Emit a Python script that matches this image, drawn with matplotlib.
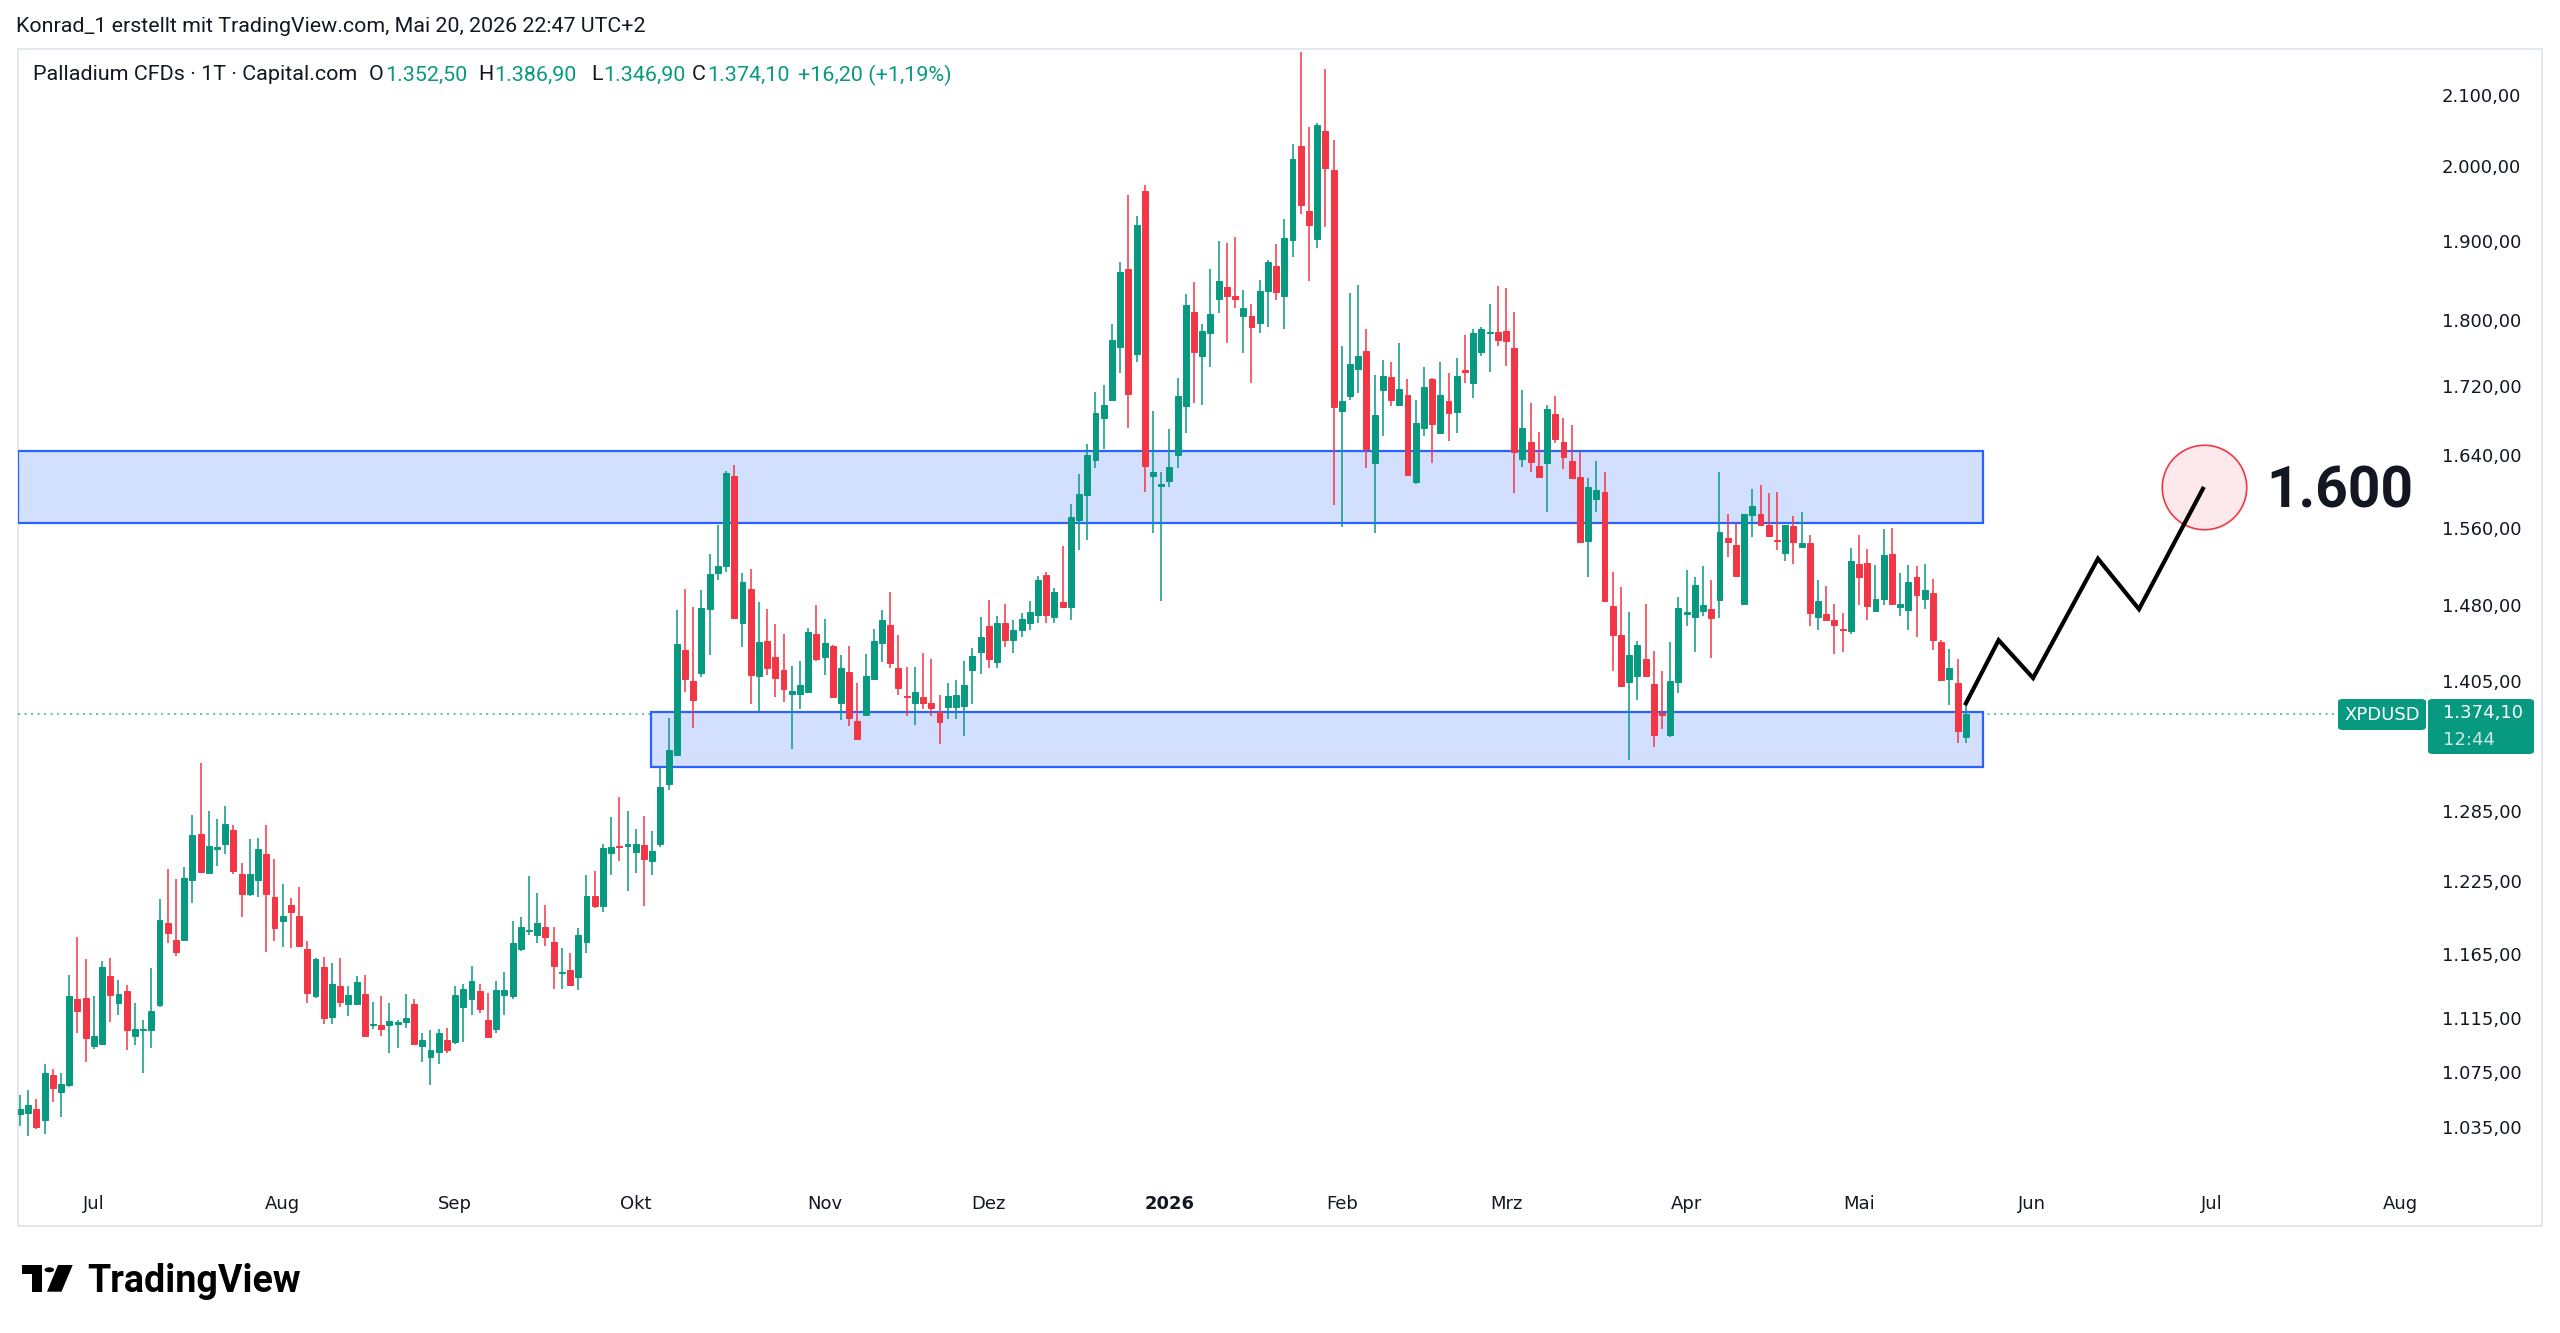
import numpy as np
import pandas as pd
import matplotlib
matplotlib.use("Agg")
import matplotlib.pyplot as plt
from matplotlib.patches import Rectangle, FancyBboxPatch, Polygon, Circle
from matplotlib.ticker import NullLocator, NullFormatter

W, H, DPI = 2560, 1333, 100

# ---------------- data ----------------
first_session = "2025-06-18"
closed_days = ["2025-12-25", "2026-01-01", "2026-04-03"]

opens = [1044, 1045, 1048, 1040, 1073, 1060, 1065, 1130, 1131, 1094,
         1096, 1148, 1127, 1136, 1102, 1106, 1106, 1125, 1190, 1177,
         1177, 1226, 1265, 1232, 1252, 1257, 1269, 1231, 1214, 1226,
         1248, 1212, 1192, 1205, 1196, 1169, 1132, 1155, 1116, 1140,
         1126, 1126, 1134, 1110, 1110, 1110, 1111, 1112, 1126, 1094,
         1086, 1090, 1099, 1097, 1124, 1130, 1136, 1114, 1107, 1133,
         1132, 1169, 1184, 1181, 1187, 1175, 1150, 1153, 1147, 1175,
         1213, 1204, 1249, 1255, 1255, 1250, 1256, 1242, 1257, 1309,
         1336, 1435, 1405, 1413, 1476, 1513, 1520, 1617, 1462, 1497,
         1410, 1444, 1428, 1416, 1393, 1393, 1395, 1451, 1428, 1439,
         1384, 1414, 1367, 1373, 1407, 1442, 1460, 1418, 1391, 1384,
         1390, 1384, 1376, 1380, 1380, 1381, 1416, 1433, 1459, 1424,
         1462, 1445, 1455, 1462, 1470, 1511, 1468, 1483, 1478, 1569,
         1596, 1635, 1683, 1703, 1767, 1864, 1758, 1966, 1617, 1606,
         1611, 1641, 1697, 1810, 1756, 1784, 1826, 1841, 1829, 1804,
         1805, 1796, 1836, 1867, 1830, 1901, 2027, 1939, 1902, 2049,
         1995, 1691, 1708, 1740, 1762, 1632, 1715, 1731, 1698, 1709,
         1610, 1671, 1728, 1666, 1702, 1690, 1739, 1724, 1761, 1783,
         1785, 1786, 1765, 1636, 1655, 1628, 1632, 1687, 1655, 1634,
         1616, 1547, 1592, 1599, 1479, 1450, 1404, 1410, 1426, 1402,
         1375, 1354, 1404, 1471, 1468, 1474, 1476, 1485, 1550, 1542,
         1481, 1574, 1575, 1564, 1548, 1534, 1563, 1540, 1545, 1468,
         1471, 1465, 1456, 1454, 1522, 1523, 1474, 1486, 1533, 1478,
         1475, 1509, 1486, 1492, 1443, 1407, 1403, 1352.5]
highs = [1058, 1062, 1055, 1081, 1077, 1074, 1149, 1179, 1161, 1132,
         1160, 1162, 1145, 1141, 1127, 1114, 1154, 1210, 1235, 1227,
         1237, 1282, 1328, 1285, 1278, 1290, 1273, 1240, 1261, 1262,
         1273, 1244, 1223, 1211, 1220, 1176, 1162, 1163, 1158, 1162,
         1140, 1148, 1149, 1128, 1132, 1127, 1114, 1134, 1130, 1104,
         1106, 1107, 1108, 1140, 1142, 1156, 1142, 1135, 1144, 1151,
         1192, 1195, 1229, 1215, 1205, 1187, 1170, 1166, 1186, 1230,
         1234, 1257, 1280, 1298, 1285, 1270, 1281, 1268, 1324, 1370,
         1475, 1497, 1478, 1496, 1533, 1564, 1623, 1629, 1513, 1517,
         1483, 1476, 1461, 1451, 1420, 1425, 1457, 1480, 1466, 1440,
         1430, 1439, 1403, 1431, 1456, 1475, 1494, 1450, 1419, 1419,
         1432, 1426, 1392, 1403, 1406, 1425, 1437, 1468, 1485, 1469,
         1481, 1465, 1472, 1484, 1510, 1514, 1498, 1541, 1586, 1619,
         1653, 1713, 1721, 1794, 1872, 1960, 1932, 1974, 1691, 1621,
         1670, 1729, 1832, 1847, 1795, 1864, 1900, 1897, 1905, 1837,
         1819, 1849, 1875, 1896, 1928, 2030, 2163, 2054, 2059, 2137,
         2036, 1768, 1833, 1843, 1788, 1733, 1751, 1749, 1772, 1728,
         1703, 1742, 1730, 1748, 1735, 1753, 1781, 1789, 1791, 1819,
         1842, 1840, 1809, 1715, 1700, 1667, 1698, 1708, 1683, 1675,
         1644, 1615, 1634, 1621, 1514, 1499, 1473, 1444, 1481, 1434,
         1415, 1443, 1488, 1516, 1509, 1520, 1506, 1621, 1575, 1566,
         1576, 1603, 1607, 1598, 1599, 1564, 1573, 1578, 1553, 1506,
         1500, 1481, 1472, 1539, 1553, 1538, 1521, 1559, 1561, 1513,
         1521, 1520, 1522, 1507, 1445, 1436, 1426, 1386.9]
lows = [1036, 1029, 1034, 1030, 1053, 1042, 1064, 1104, 1082, 1092,
        1095, 1112, 1118, 1091, 1095, 1074, 1093, 1124, 1174, 1164,
        1176, 1207, 1232, 1231, 1238, 1248, 1231, 1195, 1213, 1212,
        1167, 1176, 1171, 1170, 1172, 1127, 1131, 1111, 1111, 1124,
        1117, 1126, 1102, 1107, 1102, 1089, 1093, 1108, 1095, 1082,
        1065, 1081, 1089, 1096, 1097, 1118, 1119, 1100, 1104, 1118,
        1130, 1168, 1181, 1174, 1172, 1138, 1138, 1140, 1137, 1166,
        1203, 1199, 1230, 1242, 1217, 1232, 1204, 1230, 1254, 1304,
        1335, 1395, 1361, 1409, 1430, 1506, 1514, 1466, 1438, 1383,
        1377, 1411, 1390, 1385, 1341, 1378, 1394, 1425, 1411, 1389,
        1368, 1362, 1349, 1372, 1406, 1424, 1418, 1392, 1372, 1363,
        1378, 1372, 1346, 1369, 1369, 1353, 1383, 1412, 1418, 1418,
        1438, 1432, 1448, 1455, 1462, 1462, 1462, 1477, 1465, 1537,
        1548, 1626, 1647, 1702, 1735, 1671, 1748, 1599, 1555, 1484,
        1605, 1626, 1666, 1700, 1698, 1743, 1808, 1772, 1815, 1759,
        1723, 1783, 1791, 1824, 1789, 1879, 1935, 1848, 1891, 1918,
        1585, 1562, 1703, 1712, 1626, 1555, 1662, 1696, 1696, 1617,
        1608, 1662, 1632, 1665, 1656, 1665, 1723, 1706, 1756, 1736,
        1768, 1744, 1598, 1627, 1622, 1615, 1578, 1654, 1625, 1614,
        1545, 1509, 1578, 1484, 1415, 1399, 1331, 1387, 1409, 1343,
        1360, 1352, 1394, 1459, 1433, 1469, 1427, 1467, 1530, 1510,
        1480, 1551, 1563, 1551, 1537, 1526, 1522, 1540, 1459, 1455,
        1465, 1431, 1433, 1451, 1480, 1465, 1473, 1480, 1481, 1469,
        1455, 1448, 1476, 1435, 1406, 1382, 1347, 1346.9]
closes = [1048, 1051, 1035, 1074, 1063, 1066, 1132, 1121, 1100, 1102,
          1155, 1133, 1134, 1106, 1107, 1107, 1121, 1193, 1182, 1167,
          1228, 1264, 1233, 1255, 1254, 1274, 1234, 1214, 1231, 1252,
          1214, 1186, 1196, 1199, 1172, 1135, 1161, 1115, 1142, 1128,
          1133, 1143, 1102, 1111, 1107, 1113, 1112, 1115, 1096, 1099,
          1091, 1104, 1091, 1133, 1138, 1144, 1122, 1101, 1137, 1137,
          1174, 1187, 1185, 1190, 1179, 1156, 1151, 1141, 1181, 1213,
          1204, 1253, 1254, 1254, 1257, 1257, 1244, 1251, 1307, 1340,
          1441, 1407, 1387, 1477, 1512, 1520, 1620, 1467, 1504, 1411,
          1443, 1418, 1408, 1397, 1396, 1401, 1453, 1426, 1442, 1390,
          1418, 1370, 1350, 1410, 1444, 1465, 1423, 1398, 1390, 1395,
          1384, 1379, 1366, 1391, 1392, 1401, 1429, 1448, 1426, 1462,
          1445, 1455, 1466, 1473, 1506, 1470, 1494, 1478, 1572, 1597,
          1641, 1688, 1698, 1775, 1860, 1711, 1921, 1628, 1622, 1608,
          1627, 1708, 1818, 1761, 1786, 1807, 1848, 1830, 1826, 1815,
          1791, 1836, 1872, 1834, 1904, 2010, 1947, 1921, 2057, 1997,
          1695, 1702, 1746, 1756, 1647, 1686, 1732, 1703, 1716, 1618,
          1677, 1719, 1676, 1709, 1689, 1732, 1736, 1783, 1789, 1785,
          1775, 1774, 1644, 1671, 1633, 1616, 1693, 1659, 1638, 1615,
          1546, 1605, 1602, 1484, 1450, 1400, 1430, 1440, 1410, 1354,
          1373, 1405, 1477, 1473, 1501, 1480, 1467, 1556, 1546, 1510,
          1575, 1584, 1564, 1552, 1547, 1564, 1546, 1545, 1472, 1484,
          1465, 1460, 1455, 1526, 1509, 1479, 1486, 1532, 1481, 1481,
          1504, 1490, 1496, 1445, 1406, 1418, 1358, 1374.1]

price_ticks = [2100, 2000, 1900, 1800, 1720, 1640, 1560, 1480, 1405,
               1285, 1225, 1165, 1115, 1075, 1035]
month_labels = {2: "Feb", 3: "Mrz", 4: "Apr", 5: "Mai", 6: "Jun", 7: "Jul",
                8: "Aug", 9: "Sep", 10: "Okt", 11: "Nov", 12: "Dez"}

symbol = "XPDUSD"
last_price = 1374.10
last_price_text = "1.374,10"
countdown = "12:44"
header_text = "Konrad_1 erstellt mit TradingView.com, Mai 20, 2026 22:47 UTC+2"
title_name = "Palladium CFDs · 1T · Capital.com"
ohlc_fields = [("O", "1.352,50"), ("H", "1.386,90"), ("L", "1.346,90"), ("C", "1.374,10")]
change_text = "+16,20 (+1,19%)"

zone_upper = [1565.6, 1645.4]
zone_upper_bars = [-0.3, 239.1]
zone_lower = [1324.5, 1375.3]
zone_lower_bars = [76.9, 239.1]

path_bars = [236.9, 241.0, 245.2, 253.1, 258.1, 266.0]
path_prices = [1382, 1445, 1408, 1528, 1476, 1605]
target_label = "1.600"

# ---------------- style ----------------
GREEN = "#089981"
RED = "#F23645"
TEXT = "#131722"
BLUE = "#2962FF"
ZONE_FILL = "#D3DFFE"
FRAME = "#E0E3EB"

def de(v):
    s = f"{v:,.2f}"
    return s.replace(",", "X").replace(".", ",").replace("X", ".")

def fx(x):
    return x / W

def fy(y):
    return 1 - y / H

fig = plt.figure(figsize=(W / DPI, H / DPI), dpi=DPI, facecolor="white")

# outer frame of the chart
fig.add_artist(Rectangle((fx(18), fy(1226)), (2542 - 18) / W, (1226 - 49) / H,
                         transform=fig.transFigure, fill=False,
                         edgecolor=FRAME, linewidth=1.2, zorder=0))

ax = fig.add_axes([fx(18), fy(1176), (2428 - 18) / W, (1176 - 49) / H])
ax.set_facecolor("none")
ax.set_yscale("log")
ax.set_ylim(1000.9, 2166.8)
ax.set_xlim(-0.24, 293.3)
for s in ax.spines.values():
    s.set_visible(False)

n = len(opens)
o = np.array(opens, float)
hi = np.array(highs, float)
lo = np.array(lows, float)
c = np.array(closes, float)
x = np.arange(n)
col = np.where(c >= o, GREEN, RED)

# zones
for (p0, p1), (b0, b1) in ((zone_upper, zone_upper_bars), (zone_lower, zone_lower_bars)):
    ax.add_patch(Rectangle((b0, p0), b1 - b0, p1 - p0, facecolor=ZONE_FILL,
                           edgecolor=BLUE, linewidth=1.6, zorder=1))

# last price line
ax.axhline(last_price, color=GREEN, lw=1.3, ls=(0, (1.2, 2.4)), alpha=0.65, zorder=0.5)

# candles
ax.vlines(x, lo, hi, colors=col, linewidth=1.1, zorder=3)
ax.bar(x, np.abs(c - o), bottom=np.minimum(o, c), width=0.72, color=col,
       edgecolor=col, linewidth=0.7, zorder=4)

# projection path
ax.scatter([path_bars[-1]], [path_prices[-1]], s=3700, facecolor="#FDE9EB",
           edgecolor=RED, linewidth=1.2, zorder=5)
ax.plot(path_bars, path_prices, color="black", lw=3.0, solid_joinstyle="miter",
        solid_capstyle="butt", zorder=6)

# axes ticks
sessions = pd.bdate_range(first_session, periods=320, freq="C", holidays=closed_days)
ticks, labels, is_year = [], [], []
for i in range(1, len(sessions)):
    if i > 293:
        break
    if sessions[i].month != sessions[i - 1].month:
        ticks.append(i)
        m = sessions[i].month
        if m == 1:
            labels.append(str(sessions[i].year))
            is_year.append(True)
        else:
            labels.append(month_labels[m])
            is_year.append(False)
ax.set_xticks(ticks)
ax.set_xticklabels(labels)
for t, yb in zip(ax.get_xticklabels(), is_year):
    if yb:
        t.set_fontweight("bold")
ax.xaxis.set_minor_locator(NullLocator())

ax.yaxis.tick_right()
ax.set_yticks(price_ticks)
ax.set_yticklabels([de(v) for v in price_ticks])
ax.yaxis.set_minor_locator(NullLocator())
ax.yaxis.set_minor_formatter(NullFormatter())
ax.tick_params(axis="y", length=0, pad=10, labelsize=13, labelcolor=TEXT)
ax.tick_params(axis="x", length=0, pad=14, labelsize=13, labelcolor=TEXT)

# ---------------- texts ----------------
fig.canvas.draw()
r = fig.canvas.get_renderer()

def fit(t, width):
    bb = t.get_window_extent(renderer=r)
    t.set_fontsize(t.get_fontsize() * width / bb.width)

def width_of(t):
    return t.get_window_extent(renderer=r).width

hdr = fig.text(fx(16), fy(26), header_text, fontsize=12, color=TEXT,
               family=["Roboto", "DejaVu Sans"], va="center", ha="left")
fit(hdr, 629)

t0 = fig.text(fx(33), fy(75), title_name, fontsize=12, color=TEXT,
              family=["Roboto", "DejaVu Sans"], va="center", ha="left")
fit(t0, 323)
fs = t0.get_fontsize()
field_x = [369, 478, 591, 692]
for (letter, val), px in zip(ohlc_fields, field_x):
    tl = fig.text(fx(px), fy(75), letter, fontsize=fs, color=TEXT,
                  family=["Roboto", "DejaVu Sans"], va="center", ha="left")
    w = width_of(tl)
    fig.text(fx(px + w + 1), fy(75), val, fontsize=fs, color=GREEN,
             family=["Roboto", "DejaVu Sans"], va="center", ha="left")
fig.text(fx(798), fy(75), change_text, fontsize=fs, color=GREEN,
         family=["Roboto", "DejaVu Sans"], va="center", ha="left")

# target label
tg = fig.text(fx(2266), fy(492), target_label, fontsize=40, color=TEXT,
              family=["Roboto", "DejaVu Sans"], fontweight="bold",
              va="center", ha="left")
fit(tg, 147)

# price label boxes
fig.add_artist(FancyBboxPatch((fx(2338), fy(730)), (2426 - 2338) / W, (730 - 699) / H,
                              boxstyle="round,pad=0,rounding_size=0.002",
                              transform=fig.transFigure, facecolor=GREEN,
                              edgecolor="none", zorder=10))
fig.add_artist(FancyBboxPatch((fx(2428), fy(754)), (2534 - 2428) / W, (754 - 699) / H,
                              boxstyle="round,pad=0,rounding_size=0.002",
                              transform=fig.transFigure, facecolor=GREEN,
                              edgecolor="none", zorder=10))
fig.text(fx(2382), fy(714.5), symbol, fontsize=13, color="white",
         va="center", ha="center", zorder=11)
fig.text(fx(2443), fy(713), last_price_text, fontsize=13, color="white",
         va="center", ha="left", zorder=11)
fig.text(fx(2443), fy(740), countdown, fontsize=13, color="white", alpha=0.8,
         va="center", ha="left", zorder=11)

# TradingView logo
fig.add_artist(Polygon([(fx(21.7), fy(1265)), (fx(41.7), fy(1265)), (fx(41.7), fy(1291.7)),
                        (fx(31.7), fy(1291.7)), (fx(31.7), fy(1274.3)), (fx(21.7), fy(1274.3))],
                       closed=True, transform=fig.transFigure, facecolor="#000000",
                       edgecolor="none"))
fig.add_artist(Circle((fx(49.3), fy(1269.8)), 4.8 / W, transform=fig.transFigure,
                      facecolor="#000000", edgecolor="none"))
fig.add_artist(Polygon([(fx(58), fy(1265)), (fx(72.7), fy(1265)), (fx(61.5), fy(1291.7)),
                        (fx(47), fy(1291.7))], closed=True, transform=fig.transFigure,
                       facecolor="#000000", edgecolor="none"))
lg = fig.text(fx(87), fy(1291.7), "TradingView", fontsize=22, color="#000000",
              family=["Roboto", "DejaVu Sans"], fontweight="bold",
              va="baseline", ha="left")
fit(lg, 213)

fig.savefig("out.png", dpi=DPI, facecolor="white")
